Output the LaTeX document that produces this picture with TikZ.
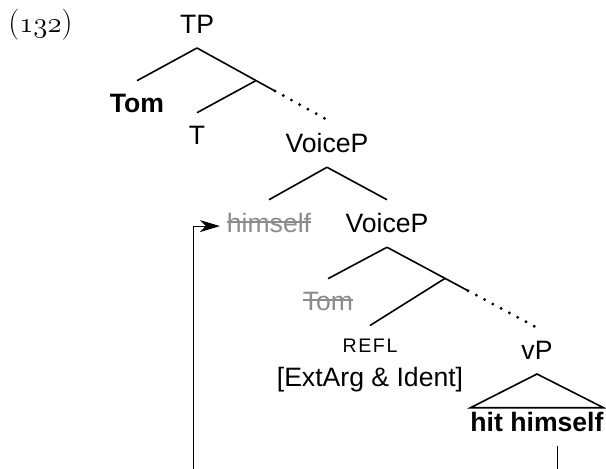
\documentclass[tikz,border=0pt]{standalone}
\usepackage{fontspec}
\usetikzlibrary{arrows.meta, calc, positioning}
\newfontfamily\treefont{Liberation Sans}
\newfontfamily\smcapfont[LetterSpace=8]{Liberation Sans}
\newsavebox{\strikebox}
\newcommand{\struck}[1]{%
  \sbox{\strikebox}{#1}%
  \rlap{\rule[0.7ex]{\wd\strikebox}{0.9pt}}\usebox{\strikebox}}
\tikzset{
  cat/.style={
    font=\treefont\fontsize{13.3}{16}\selectfont,
    inner sep=0pt, outer xsep=0pt, outer ysep=7pt, anchor=base
  },
  word/.style={cat, font=\treefont\bfseries\fontsize{13.3}{16}\selectfont},
  gone/.style={cat, text=black!45},
  branch/.style={line width=0.8pt},
  elided/.style={line width=1.6pt, line cap=round, dash pattern=on 0pt off 4.7pt},
  move/.style={-{Stealth[length=10pt, width=6pt, inset=3pt]}, line width=0.5pt},
}
\begin{document}
\begin{tikzpicture}[x=0.5pt, y=-0.5pt]
    \useasboundingbox (0,0) rectangle (606,469);

    \node[anchor=base west, inner sep=0pt, font=\fontsize{15.5}{18}\selectfont]
         (exnum) at (8,33) {(\ensuremath{\mathnormal{132}})};

    % upper tree
    \node[cat]  (tp)      at (197,34)  {TP};
    \node[word] (tom)     at (137,113) {Tom};
    \node[cat]  (t)       at (197,145) {T};
    \node[cat]  (voicep)  at (327,153) {VoiceP};
    \node[gone] (himself) at (269,233) {\struck{himself}};
    \node[cat]  (voicepb) at (387,233) {VoiceP};
    \node[gone] (tomtr)   at (328,311) {\struck{Tom}};
    \node[cat, font=\smcapfont\fontsize{9.8}{12}\selectfont]
                (refl)    at (370,353) {REFL};
    \node[cat]  (feat)    at (370,387) {[ExtArg \& Ident]};
    \node[cat]  (vp)      at (537,360) {vP};
    \node[word] (hh)      at (537,432) {hit himself};

    \draw[branch] (tp.south) -- (tom.north);
    \draw[branch] (tp.south) -- ($(tp.south)!0.6!(voicep.north)$) coordinate (tpmid);
    \draw[elided] (tpmid) -- (voicep.north);
    \draw[branch] ($(tp.south)!0.454!(voicep.north)$) -- (t.north);

    \draw[branch] (voicep.south) -- (himself.north);
    \draw[branch] (voicep.south) -- (voicepb.north);

    \draw[branch] (voicepb.south) -- (tomtr.north);
    \draw[branch] (voicepb.south) -- ($(voicepb.south)!0.54!(vp.north)$) coordinate (vbmid);
    \draw[elided] (vbmid) -- (vp.north);
    \draw[branch] ($(voicepb.south)!0.387!(vp.north)$) -- (refl.north);

    \draw[branch] (vp.south) -- ([yshift=-4.5pt]hh.north east)
                  -- ([yshift=-4.5pt]hh.north west) -- cycle;

    % movement arrow, lower turn lies below the page
    \coordinate (low) at (193,500);
    \draw[move] ([xshift=10pt]hh.south) |- (low)
                |- ([xshift=-3.5pt, yshift=-1.3pt]himself.west);
\end{tikzpicture}
\end{document}
